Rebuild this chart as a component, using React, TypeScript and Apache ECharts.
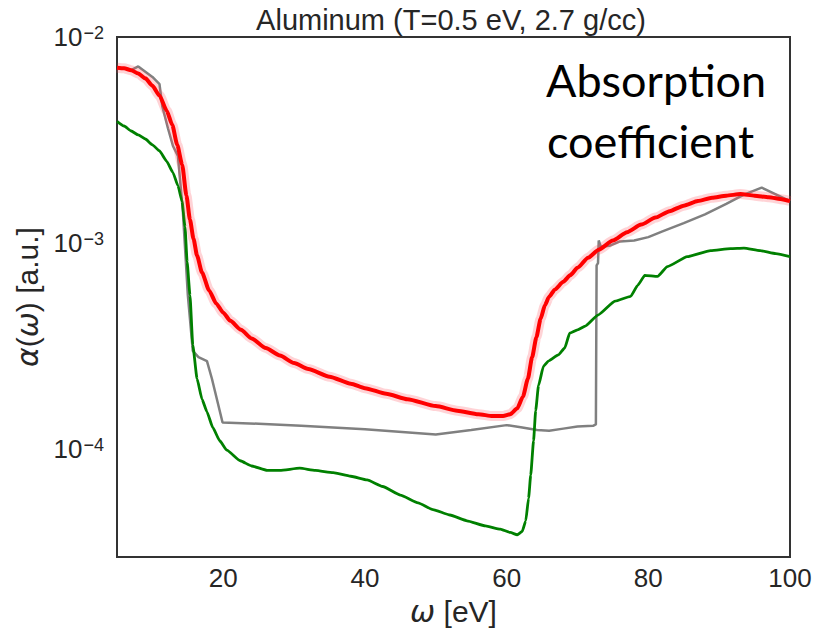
import React, { useEffect, useRef } from "react";
import * as echarts from "echarts";

const xTicks = [20, 40, 60, 80, 100];
const yTicks = [1e-4, 1e-3, 1e-2];

const redX = [5, 6, 7, 8, 9, 10, 11, 12, 12.8, 13.5, 14.2, 14.8, 15.3, 15.8, 16.3, 17, 18, 19, 20, 21, 22.5, 24, 26, 28, 30, 32, 35, 38, 40, 43, 46, 50, 53, 56, 58, 59.5, 60.5, 61.5, 62.3, 63, 63.6, 64.2, 64.8, 65.4, 66, 66.8, 68, 69, 70, 71.5, 73, 75, 77, 79, 81, 83, 85, 87, 89, 91, 93, 95, 97, 99, 100];
const redY = [7.1e-3, 7.05e-3, 6.9e-3, 6.65e-3, 6.3e-3, 5.8e-3, 5.2e-3, 4.4e-3, 3.75e-3, 3.0e-3, 2.4e-3, 1.7e-3, 1.3e-3, 1.05e-3, 8.7e-4, 7.2e-4, 5.9e-4, 5.1e-4, 4.6e-4, 4.2e-4, 3.8e-4, 3.45e-4, 3.1e-4, 2.85e-4, 2.62e-4, 2.45e-4, 2.25e-4, 2.08e-4, 1.98e-4, 1.86e-4, 1.75e-4, 1.62e-4, 1.54e-4, 1.48e-4, 1.45e-4, 1.45e-4, 1.48e-4, 1.58e-4, 1.8e-4, 2.2e-4, 2.8e-4, 3.5e-4, 4.3e-4, 5.0e-4, 5.5e-4, 5.95e-4, 6.5e-4, 7.0e-4, 7.6e-4, 8.5e-4, 9.3e-4, 1.03e-3, 1.13e-3, 1.23e-3, 1.33e-3, 1.43e-3, 1.52e-3, 1.6e-3, 1.66e-3, 1.7e-3, 1.73e-3, 1.7e-3, 1.67e-3, 1.63e-3, 1.6e-3];

const grayX = [7, 8, 10, 11, 11.4, 12.2, 12.9, 13.6, 14.3, 15, 15.7, 16.5, 17.7, 18.4, 19.9, 25, 31, 40, 50, 55, 60, 62, 64.3, 66, 68, 70, 72.2, 72.6, 72.7, 72.9, 73.0, 73.3, 74.5, 76, 78, 80, 82, 85, 88, 91, 93.5, 96, 100];
const grayY = [6.9e-3, 7.2e-3, 6.4e-3, 5.9e-3, 4.6e-3, 3.6e-3, 2.96e-3, 2.65e-3, 1.42e-3, 5.6e-4, 3.0e-4, 2.8e-4, 2.68e-4, 2.2e-4, 1.35e-4, 1.33e-4, 1.3e-4, 1.25e-4, 1.18e-4, 1.24e-4, 1.31e-4, 1.28e-4, 1.24e-4, 1.23e-4, 1.26e-4, 1.29e-4, 1.3e-4, 1.32e-4, 7.8e-4, 8.0e-4, 1.03e-3, 9.6e-4, 9.7e-4, 1.02e-3, 1.03e-3, 1.07e-3, 1.14e-3, 1.25e-3, 1.38e-3, 1.55e-3, 1.72e-3, 1.86e-3, 1.6e-3];

const greenX = [5, 6, 7, 8, 9, 10, 11, 12, 12.9, 13.6, 14.2, 14.6, 14.9, 15.3, 15.7, 16.3, 17, 17.7, 18.5, 19.5, 20.5, 22.4, 24, 26.2, 28, 30.8, 33, 35.5, 38, 40.3, 42.5, 45, 47.5, 49.6, 52, 54.4, 57, 59.1, 60.5, 61.5, 62.2, 62.7, 63.1, 63.4, 63.8, 64.1, 64.5, 65.2, 65.9, 67.3, 68.2, 68.9, 70, 71.1, 72.9, 75.3, 77.5, 78.5, 79.5, 81.3, 82.7, 85.5, 88.8, 91.6, 93.5, 95.8, 98, 100];
const greenY = [3.9e-3, 3.7e-3, 3.5e-3, 3.35e-3, 3.2e-3, 3.0e-3, 2.8e-3, 2.5e-3, 2.2e-3, 1.9e-3, 1.59e-3, 1.2e-3, 8.1e-4, 5.6e-4, 3.2e-4, 2.2e-4, 1.75e-4, 1.52e-4, 1.28e-4, 1.1e-4, 9.9e-5, 8.8e-5, 8.3e-5, 7.9e-5, 7.9e-5, 8.1e-5, 7.9e-5, 7.7e-5, 7.4e-5, 7.1e-5, 6.6e-5, 6.0e-5, 5.5e-5, 5.1e-5, 4.8e-5, 4.5e-5, 4.25e-5, 4.1e-5, 3.95e-5, 3.85e-5, 4.0e-5, 4.5e-5, 5.8e-5, 7.5e-5, 1.1e-4, 1.54e-4, 2.04e-4, 2.53e-4, 2.68e-4, 2.87e-4, 3.1e-4, 3.66e-4, 3.8e-4, 3.96e-4, 4.48e-4, 5.23e-4, 5.52e-4, 6.24e-4, 6.98e-4, 6.9e-4, 7.7e-4, 8.6e-4, 9.2e-4, 9.4e-4, 9.45e-4, 9.2e-4, 8.9e-4, 8.6e-4];

const titleText = "Aluminum (T=0.5 eV, 2.7 g/cc)";
const noteLines = ["Absorption", "coefficient"];

const pair = (xs: number[], ys: number[]) => xs.map((x, i) => [x, ys[i]]);
const SANS = "'Liberation Sans', Arial, sans-serif";
const TXT = "#262626";

export default function App() {
  const ref = useRef<HTMLDivElement>(null);
  useEffect(() => {
    if (!ref.current) return;
    const chart = echarts.init(ref.current, undefined, { renderer: "svg" });
    const sup: Record<string, string> = { "-": "−" };
    chart.setOption({
      animation: false,
      backgroundColor: "#ffffff",
      grid: {
        left: 117, right: 25, top: 37, bottom: 71,
        show: true, borderColor: "#333333", borderWidth: 2, backgroundColor: "transparent",
      },
      xAxis: {
        type: "value", min: 5, max: 100,
        axisLine: { show: false }, axisTick: { show: false }, splitLine: { show: false },
        axisLabel: {
          customValues: xTicks, margin: 8, color: TXT, fontSize: 26, fontFamily: SANS,
        },
        name: "{i|ω} [eV]", nameLocation: "middle", nameGap: 36,
        nameTextStyle: {
          fontSize: 30, color: TXT, fontFamily: SANS,
          rich: { i: { fontSize: 30, fontStyle: "italic", fontFamily: "'DejaVu Sans', sans-serif", color: TXT } },
        },
      },
      yAxis: {
        type: "log", logBase: 10, min: 3e-5, max: 1e-2,
        axisLine: { show: false }, axisTick: { show: false }, splitLine: { show: false }, minorTick: { show: false },
        axisLabel: {
          customValues: yTicks, margin: 13, color: TXT, fontFamily: SANS,
          formatter: (v: number) => {
            const e = Math.round(Math.log10(v));
            if (Math.abs(Math.log10(v) - e) > 1e-6) return "";
            const es = String(e).split("").map((c) => sup[c] || c).join("");
            return "{b|10}{s|" + es + "}";
          },
          rich: {
            b: { fontSize: 26, lineHeight: 26, verticalAlign: "bottom", color: TXT, fontFamily: SANS },
            s: { fontSize: 18, lineHeight: 18, padding: [0, 0, 20, 1], verticalAlign: "top", color: TXT, fontFamily: SANS },
          },
        },
        name: "{i|α}({i|ω}) [a.u.]", nameLocation: "middle", nameGap: 72,
        nameTextStyle: {
          fontSize: 30, color: TXT, fontFamily: SANS,
          rich: { i: { fontSize: 30, fontStyle: "italic", fontFamily: "'DejaVu Sans', sans-serif", color: TXT } },
        },
      },
      graphic: [
        { type: "text", x: 451, y: 20, style: { text: titleText, fontSize: 29, fontFamily: SANS, fill: TXT, align: "center", verticalAlign: "middle" } },
        { type: "text", x: 546, y: 80, style: { text: noteLines[0], fontSize: 45, fontFamily: "Lato, sans-serif", fill: "#000", align: "left", verticalAlign: "middle" } },
        { type: "text", x: 547, y: 141, style: { text: noteLines[1], fontSize: 45, fontFamily: "Lato, sans-serif", fill: "#000", align: "left", verticalAlign: "middle" } },
      ],
      series: [
        {
          type: "line", name: "gray", data: pair(grayX, grayY), showSymbol: false, symbol: "none",
          lineStyle: { color: "#808080", width: 2.5 }, z: 2,
        },
        {
          type: "line", name: "green", data: pair(greenX, greenY), showSymbol: false, symbol: "none",
          smooth: 0.15, smoothMonotone: "x",
          lineStyle: { color: "#008000", width: 2.8 }, z: 3,
        },
        {
          type: "line", name: "redBand", data: pair(redX, redY), showSymbol: false, symbol: "none",
          smooth: 0.2, smoothMonotone: "x",
          lineStyle: { color: "rgba(255,80,90,0.25)", width: 10 }, z: 4,
        },
        {
          type: "line", name: "red", data: pair(redX, redY), showSymbol: false, symbol: "none",
          smooth: 0.2, smoothMonotone: "x",
          lineStyle: { color: "#ff0000", width: 4 }, z: 5,
        },
      ],
    });
    return () => chart.dispose();
  }, []);
  return (
    <div
      ref={ref}
      style={{ position: "fixed", left: 0, top: 0, width: 815, height: 631, background: "#fff" }}
    />
  );
}
